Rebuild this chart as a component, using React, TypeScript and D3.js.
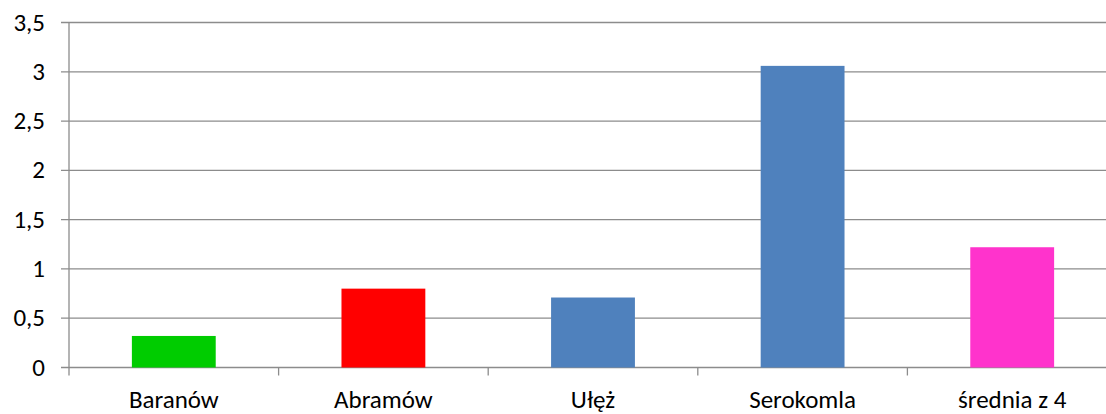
import React from "react";
import * as d3 from "d3";

const categories = ["Baranów", "Abramów", "Ułęż", "Serokomla", "średnia z 4"];
const values = [0.32, 0.8, 0.71, 3.06, 1.22];
const colors = ["#00CC00", "#FF0000", "#4F81BD", "#4F81BD", "#FF33CC"];
const yTicks = [0, 0.5, 1, 1.5, 2, 2.5, 3, 3.5];

const W = 1106;
const H = 414;
const margin = { left: 69, right: -11, top: 22.5, bottom: 46.5 };

export default function App() {
  const x = d3
    .scaleBand<string>()
    .domain(categories)
    .range([margin.left, W - margin.right])
    .paddingInner(0.6)
    .paddingOuter(0.3);
  const y = d3.scaleLinear().domain([0, 3.5]).range([H - margin.bottom, margin.top]);
  const step = x.step();
  const bandStart = margin.left;
  const font = "Calibri, Carlito, Lato, sans-serif";
  const fmt = (v: number) => String(v).replace(".", ",");
  const grid = "#8C8C8C";

  return (
    <svg
      width={W}
      height={H}
      style={{ position: "absolute", left: 0, top: 0, background: "#fff" }}
    >
      {yTicks.map((t) => (
        <g key={t}>
          <line x1={61} x2={W} y1={y(t)} y2={y(t)} stroke={grid} strokeWidth={1.3} />
          <text
            x={45}
            y={y(t)}
            dy="0.32em"
            textAnchor="end"
            fontFamily={font}
            fontSize={25}
            fill="#000"
          >
            {fmt(t)}
          </text>
        </g>
      ))}
      <line x1={margin.left} x2={margin.left} y1={y(3.5)} y2={y(0) + 8} stroke={grid} strokeWidth={1.3} />
      {categories.map((c, i) => (
        <line
          key={"t" + i}
          x1={bandStart + step * (i + 1)}
          x2={bandStart + step * (i + 1)}
          y1={y(0)}
          y2={y(0) + 8}
          stroke={grid}
          strokeWidth={1.3}
        />
      ))}
      {categories.map((c, i) => (
        <rect
          key={c}
          x={x(c)!}
          width={x.bandwidth()}
          y={y(values[i])}
          height={y(0) - y(values[i])}
          fill={colors[i]}
        />
      ))}
      {categories.map((c) => (
        <text
          key={"l" + c}
          x={x(c)! + x.bandwidth() / 2}
          y={408}
          textAnchor="middle"
          fontFamily={font}
          fontSize={25}
          fill="#000"
        >
          {c}
        </text>
      ))}
    </svg>
  );
}
